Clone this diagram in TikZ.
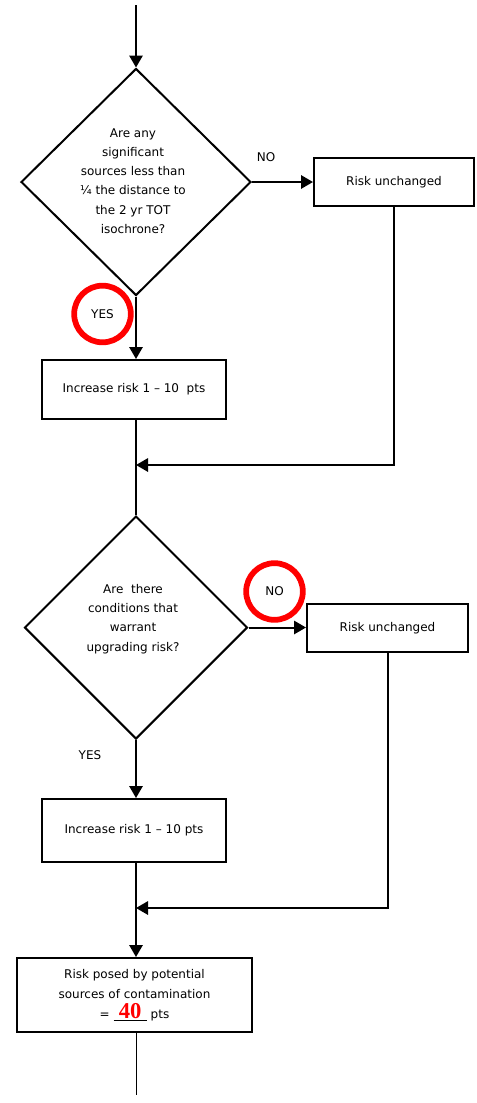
\documentclass[tikz,border=0pt]{standalone}
\usepackage{fontspec}
\setmainfont{DejaVu Sans}
\newfontfamily\serifbold{Liberation Serif}
\usetikzlibrary{shapes.geometric,arrows.meta}
\begin{document}
\begin{tikzpicture}[x=0.75pt,y=-0.75pt,
  line width=1.5pt,
  font=\fontsize{9}{14.4}\selectfont,
  arr/.style={-{Triangle[length=9pt,width=10pt]}},
  box/.style={draw,rectangle,inner sep=0pt,align=center},
  dia/.style={draw,diamond,inner sep=0pt},
  txt/.style={inner sep=0pt,align=center},
  ring/.style={draw=red,circle,line width=4.3pt,minimum size=42.5pt,inner sep=0pt},
  thin/.style={line width=0.75pt}
]
\useasboundingbox (0,0) rectangle (476,1103);

% top entry
\coordinate (start) at (136,5);
\node[dia,minimum width=172.5pt,minimum height=170.25pt] (d1) at (136,182) {};
\node[txt] (d1t) at (133,181) {Are any\\significant\\sources less than\\¼ the distance to\\the 2 yr TOT\\isochrone?};
\node[box,minimum width=120pt,minimum height=36pt] (r1) at (394,182) {Risk unchanged};
\node[txt] (no1) at (266,157) {NO};
\node[ring] (yes1) at (102.5,314) {\raisebox{-3pt}{YES}};
\node[box,minimum width=138pt,minimum height=44.25pt] (b2) at (134,389.5) {Increase risk 1 – 10\ \ pts};
\coordinate (j1) at (136,465);

\node[dia,minimum width=167.25pt,minimum height=167.25pt] (d2) at (136,627.5) {};
\node[txt] (d2t) at (133,619) {Are\ \ there\\conditions that\\warrant\\upgrading risk?};
\node[box,minimum width=120.75pt,minimum height=36pt] (r2) at (387.5,628) {Risk unchanged};
\node[ring] (no2) at (274.5,591.5) {\raisebox{-1.5pt}{NO}};
\node[txt] (yes2) at (90,755) {YES};
\node[box,minimum width=138pt,minimum height=47.25pt] (b4) at (134,830.5) {Increase risk 1 – 10 pts};
\coordinate (j2) at (136,908);

\node[box,minimum width=176.25pt,minimum height=55.5pt,font=\fontsize{9}{15}\selectfont] (b5) at (134.5,995)
  {Risk posed by potential\\sources of contamination\\= \underline{\makebox[25pt][c]{\textcolor{red}{\serifbold\bfseries\fontsize{17}{15}\selectfont 40}}} pts};
\coordinate (end) at (136,1095);

% connectors
\draw[arr] (start) -- (d1.north);
\draw[arr] (d1.east) -- (r1.west);
\draw[arr] (d1.south) -- (d1.south |- b2.north);
\draw (d1.south |- b2.south) -- (d2.north);
\draw[arr] (r1.south) |- (j1);
\draw[arr] (d2.east) -- (d2.east -| r2.west);
\draw[arr] (d2.south) -- (d2.south |- b4.north);
\draw[arr] (d2.south |- b4.south) -- (d2.south |- b5.north);
\draw[arr] (r2.south) |- (j2);
\draw[thin] (d2.south |- b5.south) -- (end);
\end{tikzpicture}
\end{document}
